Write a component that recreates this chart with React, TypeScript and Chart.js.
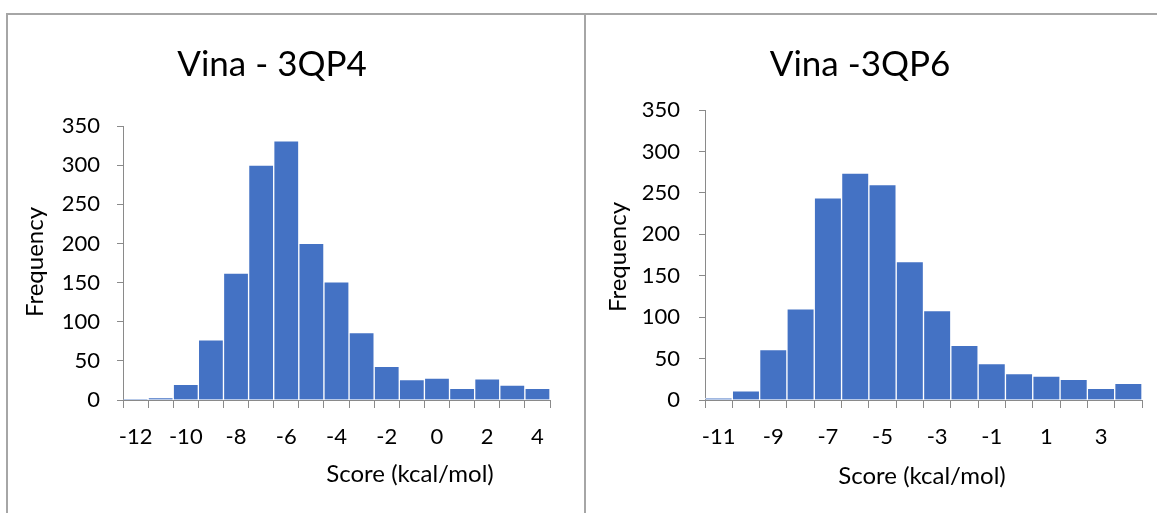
import React, { useEffect, useRef } from "react";
import { Chart, registerables } from "chart.js";

Chart.register(...registerables);

const leftTitle = "Vina - 3QP4";
const leftBins = ["-12", "-11", "-10", "-9", "-8", "-7", "-6", "-5", "-4", "-3", "-2", "-1", "0", "1", "2", "3", "4"];
const leftFreq = [1, 3, 20, 77, 162, 300, 331, 200, 151, 86, 43, 26, 28, 15, 27, 19, 15];

const rightTitle = "Vina -3QP6";
const rightBins = ["-11", "-10", "-9", "-8", "-7", "-6", "-5", "-4", "-3", "-2", "-1", "0", "1", "2", "3", "4"];
const rightFreq = [2, 11, 61, 110, 244, 274, 260, 167, 108, 66, 44, 32, 29, 25, 14, 20];

const yTitle = "Frequency";
const xTitle = "Score (kcal/mol)";

const FONT = "Lato, 'Open Sans', sans-serif";
const AXIS_COLOR = "#8a8a8a";
const BAR_COLOR = "#4472C4";

type Layout = {
  w: number;
  h: number;
  left: number;
  right: number;
  top: number;
  bottom: number;
  titleX: number;
  titleY: number;
  yTitleX: number;
  yTitleY: number;
  xTitleX: number;
  xTitleY: number;
  yPad: number;
};

function Histogram(props: { title: string; bins: string[]; freq: number[]; layout: Layout; style: React.CSSProperties }) {
  const ref = useRef<HTMLCanvasElement | null>(null);
  useEffect(() => {
    const L = props.layout;
    const textPlugin = {
      id: "texts",
      afterDraw(chart: any) {
        const ctx = chart.ctx;
        ctx.save();
        ctx.fillStyle = "#000";
        ctx.textAlign = "center";
        ctx.textBaseline = "middle";
        ctx.font = `35px ${FONT}`;
        ctx.fillText(props.title, L.titleX, L.titleY);
        ctx.font = `24px ${FONT}`;
        ctx.fillText(xTitle, L.xTitleX, L.xTitleY);
        ctx.translate(L.yTitleX, L.yTitleY);
        ctx.rotate(-Math.PI / 2);
        ctx.fillText(yTitle, 0, 0);
        ctx.restore();
      },
    };
    const chart = new Chart(ref.current as HTMLCanvasElement, {
      type: "bar",
      data: {
        labels: props.bins,
        datasets: [
          {
            data: props.freq,
            backgroundColor: BAR_COLOR,
            borderColor: "rgba(255,255,255,0.85)",
            borderWidth: 1,
            barPercentage: 1,
            categoryPercentage: 1,
          },
        ],
      },
      options: {
        animation: false,
        responsive: false,
        devicePixelRatio: 1,
        layout: { padding: { left: 0, right: L.w - L.right, top: L.top, bottom: 0 } },
        plugins: { legend: { display: false }, tooltip: { enabled: false }, title: { display: false } },
        scales: {
          x: {
            type: "category",
            offset: true,
            grid: { offset: true, drawOnChartArea: false, drawTicks: true, tickLength: 8, color: AXIS_COLOR, lineWidth: 1 },
            border: { display: true, color: AXIS_COLOR, width: 1 },
            ticks: {
              autoSkip: false,
              maxRotation: 0,
              minRotation: 0,
              padding: 16,
              color: "#000",
              font: { family: FONT, size: 22 },
              callback: (_v: any, i: number) => (i % 2 === 0 ? props.bins[i] : ""),
            },
            afterFit: (scale: any) => {
              scale.height = L.h - L.bottom;
            },
          },
          y: {
            min: 0,
            max: 350,
            grid: { drawOnChartArea: false, drawTicks: true, tickLength: 6, color: AXIS_COLOR, lineWidth: 1 },
            border: { display: true, color: AXIS_COLOR, width: 1 },
            ticks: {
              stepSize: 50,
              padding: L.yPad,
              color: "#000",
              font: { family: FONT, size: 22 },
            },
            afterFit: (scale: any) => {
              scale.width = L.left;
            },
          },
        },
      },
      plugins: [textPlugin],
    });
    return () => chart.destroy();
  }, []);
  return <canvas ref={ref} width={props.layout.w} height={props.layout.h} style={props.style} />;
}

const leftLayout: Layout = {
  w: 576,
  h: 498,
  left: 115,
  right: 542,
  top: 111,
  bottom: 385,
  titleX: 264,
  titleY: 50,
  yTitleX: 27,
  yTitleY: 247,
  xTitleX: 402,
  xTitleY: 459,
  yPad: 17,
};

const rightLayout: Layout = {
  w: 570,
  h: 498,
  left: 118,
  right: 555,
  top: 95,
  bottom: 385,
  titleX: 273,
  titleY: 50,
  yTitleX: 31,
  yTitleY: 242,
  xTitleX: 335,
  xTitleY: 461,
  yPad: 19,
};

export default function App() {
  const line = "#a6a6a6";
  return (
    <div style={{ position: "absolute", left: 0, top: 0, width: 1157, height: 513, background: "#fff", overflow: "hidden" }}>
      <div style={{ position: "absolute", left: 6, top: 13, width: 1151, height: 2, background: line }} />
      <div style={{ position: "absolute", left: 6, top: 13, width: 2, height: 500, background: line }} />
      <div style={{ position: "absolute", left: 584, top: 13, width: 2, height: 500, background: line }} />
      <Histogram
        title={leftTitle}
        bins={leftBins}
        freq={leftFreq}
        layout={leftLayout}
        style={{ position: "absolute", left: 8, top: 15, display: "block" }}
      />
      <Histogram
        title={rightTitle}
        bins={rightBins}
        freq={rightFreq}
        layout={rightLayout}
        style={{ position: "absolute", left: 587, top: 15, display: "block" }}
      />
    </div>
  );
}
